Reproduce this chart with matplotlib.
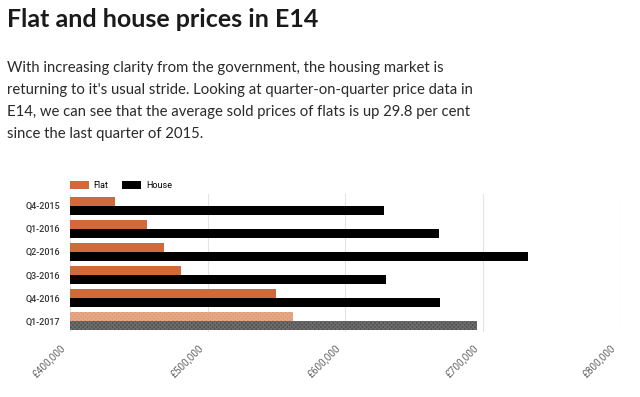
import numpy as np
import matplotlib
matplotlib.use("Agg")
import matplotlib.pyplot as plt
import matplotlib.transforms as mtransforms
from matplotlib.patches import Patch
from matplotlib.ticker import FuncFormatter

quarters = ["Q4-2015", "Q1-2016", "Q2-2016", "Q3-2016", "Q4-2016", "Q1-2017"]
flat_prices = [433000, 456000, 468000, 481000, 550000, 562000]
house_prices = [628000, 668000, 733000, 630000, 669000, 696000]
x_ticks = [400000, 500000, 600000, 700000, 800000]

title = "Flat and house prices in E14"
intro = ("With increasing clarity from the government, the housing market is\n"
         "returning to it's usual stride. Looking at quarter-on-quarter price data in\n"
         "E14, we can see that the average sold prices of flats is up 29.8 per cent\n"
         "since the last quarter of 2015.")

flat_col = "#d06a3a"
house_col = "#000000"
flat_light = "#e0956c"
house_light = "#4a4a4a"

W, H = 640, 397
fig = plt.figure(figsize=(W / 100, H / 100), dpi=100)
fig.patch.set_facecolor("white")

fig.text(7 / W, 1 - 8 / H, title, fontsize=18, fontweight="bold", family="Lato",
         color="#1a1a1a", va="top", ha="left")
fig.text(7 / W, 1 - 61 / H, intro, fontsize=10.7, family="Lato", fontweight="normal",
         color="#2a2a2a", va="top", ha="left", linespacing=1.74)

ax = fig.add_axes([70 / W, 1 - 332 / H, 550 / W, 138 / H])
y = np.arange(len(quarters))
h = 0.38
base = x_ticks[0]

fb = ax.barh(y - 0.19, np.array(flat_prices) - base, left=base, height=h,
             color=flat_col, edgecolor="none")
hb = ax.barh(y + 0.19, np.array(house_prices) - base, left=base, height=h,
             color=house_col, edgecolor="none")
# last quarter is shown lighter / hatched
fb[-1].set_facecolor(flat_light)
hb[-1].set_facecolor(house_light)
for b in (fb[-1], hb[-1]):
    b.set_hatch("xxxxxxxx")
    b.set_edgecolor("#ffffff30")
    b.set_linewidth(0)

ax.set_xlim(400000, 800000)
ax.set_ylim(5.47, -0.51)
ax.set_xticks(x_ticks)
ax.xaxis.set_major_formatter(FuncFormatter(lambda v, p: "£{:,.0f}".format(v)))
ax.set_yticks(y)
ax.set_yticklabels(quarters)
ax.tick_params(axis="y", length=0, pad=7, labelsize=6.5, labelcolor="#333333")
ax.tick_params(axis="x", length=0, pad=10, labelsize=7.2, labelcolor="#666666")
for lab in ax.get_yticklabels():
    lab.set_family("Roboto")
    lab.set_fontweight("medium")
shift = mtransforms.ScaledTranslation(-6 / 100, 0, fig.dpi_scale_trans)
for lab in ax.get_xticklabels():
    lab.set_family("Roboto")
    lab.set_rotation(45)
    lab.set_ha("right")
    lab.set_va("center")
    lab.set_rotation_mode("anchor")
    lab.set_transform(lab.get_transform() + shift)
ax.grid(axis="x", color="#e4e4e4", linewidth=0.8)
ax.set_axisbelow(True)
for s in ax.spines.values():
    s.set_visible(False)

handles = [Patch(facecolor=flat_col, edgecolor="none", label="Flat"),
           Patch(facecolor=house_col, edgecolor="none", label="House")]
fig.legend(handles=handles, loc="lower left", bbox_to_anchor=(66 / W, 1 - 194 / H),
           ncol=2, frameon=False, handlelength=2.1, handleheight=1.0,
           columnspacing=1.6, handletextpad=0.5, borderaxespad=0,
           prop={"family": "Roboto", "size": 6.5})

fig.savefig("out.png", dpi=100)
